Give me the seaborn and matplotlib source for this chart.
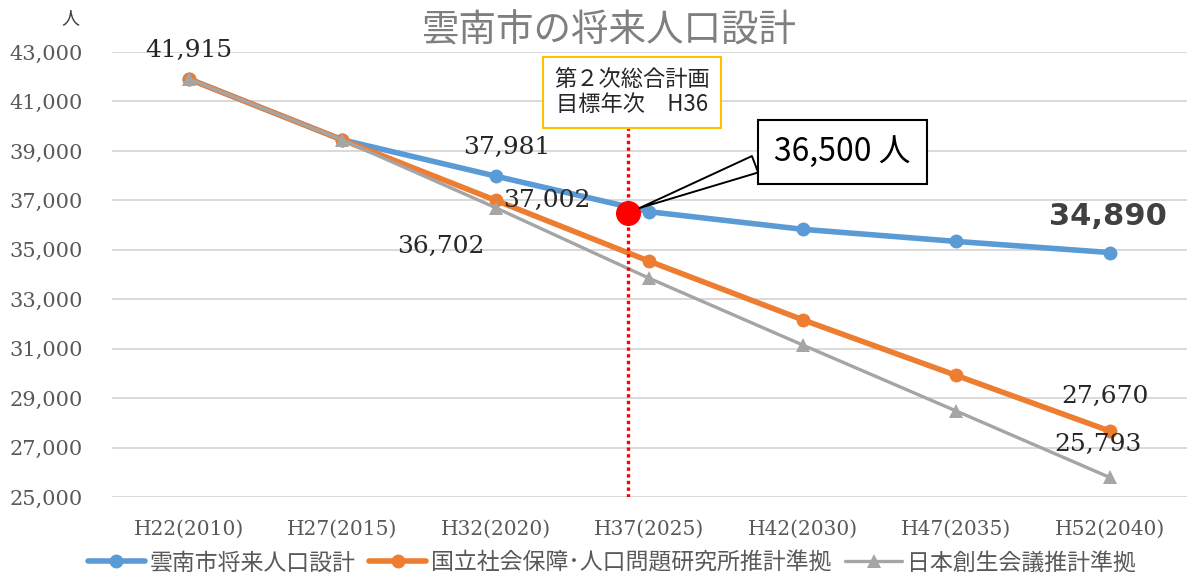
import numpy as np
import pandas as pd
import matplotlib
matplotlib.use("Agg")
import matplotlib.pyplot as plt
import matplotlib.ticker as mticker
import seaborn as sns

# データ
years = ["H22(2010)", "H27(2015)", "H32(2020)", "H37(2025)",
         "H42(2030)", "H47(2035)", "H52(2040)"]
unnan_plan = [41915, 39450, 37981, 36540, 35830, 35340, 34890]
ipss_est = [41915, 39450, 37002, 34540, 32170, 29920, 27670]
sousei_est = [41915, 39450, 36702, 33850, 31150, 28480, 25793]
series_names = ["雲南市将来人口設計", "国立社会保障･人口問題研究所推計準拠", "日本創生会議推計準拠"]
y_ticks = list(range(25000, 43001, 2000))
target_pos = 2.86      # H36 (第2次総合計画 目標年次)
target_value = 36500

BLUE = "#5B9BD5"
ORANGE = "#ED7D31"
GRAY = "#A5A5A5"
JP = ["Noto Sans CJK JP", "DejaVu Sans"]
SERIF = "DejaVu Serif"

sns.set_style("white")
plt.rcParams["font.family"] = JP

df = pd.DataFrame({
    "x": list(range(len(years))) * 3,
    "value": unnan_plan + ipss_est + sousei_est,
    "series": [n for n in series_names for _ in years],
})

fig = plt.figure(figsize=(11.89, 5.78), dpi=100)
ax = fig.add_axes([0.094, 0.140, 0.904, 0.770])

styles = {
    series_names[0]: dict(color=BLUE, marker="o", lw=4.0, ms=10),
    series_names[1]: dict(color=ORANGE, marker="o", lw=4.0, ms=10),
    series_names[2]: dict(color=GRAY, marker="^", lw=2.4, ms=10),
}
for name in series_names:
    st = styles[name]
    sns.lineplot(data=df[df["series"] == name], x="x", y="value", ax=ax,
                 color=st["color"], marker=st["marker"], linewidth=st["lw"],
                 markersize=st["ms"], markeredgewidth=0, label=name)

ax.set_xlim(-0.5, 6.5)
ax.set_ylim(25000, 43000)
ax.set_yticks(y_ticks)
ax.yaxis.set_major_formatter(mticker.FuncFormatter(lambda v, _: f"{int(v):,}"))
ax.set_xticks(range(len(years)))
ax.set_xticklabels(years)
ax.tick_params(axis="both", length=0, labelcolor="#595959",
               labelfontfamily=SERIF)
ax.tick_params(axis="x", labelsize=14.5, pad=16)
ax.tick_params(axis="y", labelsize=15, pad=21)
ax.grid(axis="y", color="#d9d9d9", linewidth=1.4)
ax.set_axisbelow(True)
ax.set_xlabel("")
ax.set_ylabel("")
for s in ax.spines.values():
    s.set_visible(False)

fig.text(0.059, 0.968, "人", fontsize=13, color="#404040", ha="center", va="center")
fig.text(0.512, 0.946, "雲南市の将来人口設計", fontsize=27, color="#7f7f7f",
         ha="center", va="center")

# データラベル
lab = dict(family=SERIF, fontsize=18, color="#262626", ha="center", va="center")
ax.text(0, unnan_plan[0] + 1150, f"{unnan_plan[0]:,}", **lab)
ax.text(2.07, unnan_plan[2] + 1150, f"{unnan_plan[2]:,}", **lab)
ax.text(2.33, ipss_est[2] + 0, f"{ipss_est[2]:,}", **lab)
ax.text(1.64, sousei_est[2] - 1550, f"{sousei_est[2]:,}", **lab)
ax.text(5.99, unnan_plan[6] + 1450, f"{unnan_plan[6]:,}", family="DejaVu Sans",
        fontsize=22, fontweight="bold", color="#404040", ha="center", va="center")
ax.text(5.97, ipss_est[6] + 1400, f"{ipss_est[6]:,}", **lab)
ax.text(5.92, sousei_est[6] + 1330, f"{sousei_est[6]:,}", **lab)

# 目標年次
ax.plot([target_pos, target_pos], [25000, 42100], color="red", lw=2.4,
        linestyle=(0, (1, 1)), zorder=4)
ax.plot([target_pos], [target_value], marker="o", color="red", ms=17, zorder=6)
ax.text(2.89, 41380, "第２次総合計画\n目標年次　H36", fontsize=16, color="#262626",
        ha="center", va="center", linespacing=1.15,
        bbox=dict(boxstyle="square,pad=0.5", fc="white", ec="#FFC000", lw=1.5),
        zorder=5)
ax.annotate("36,500 人", xy=(target_pos + 0.06, target_value + 150),
            xytext=(4.26, 38950), fontsize=23, color="black",
            ha="center", va="center",
            bbox=dict(boxstyle="square,pad=0.5", fc="white", ec="black", lw=1.5),
            arrowprops=dict(arrowstyle="wedge,tail_width=0.55,shrink_factor=0.5",
                            fc="white", ec="black", lw=1.4, relpos=(0.0, 0.35)),
            zorder=7)

leg = ax.legend(loc="center", bbox_to_anchor=(0.465, -0.148), ncol=3,
                frameon=False, fontsize=16.5, handlelength=2.5,
                columnspacing=0.6, handletextpad=0.2, borderaxespad=0)
for t in leg.get_texts():
    t.set_color("#595959")

plt.savefig("out.png", dpi=100)
